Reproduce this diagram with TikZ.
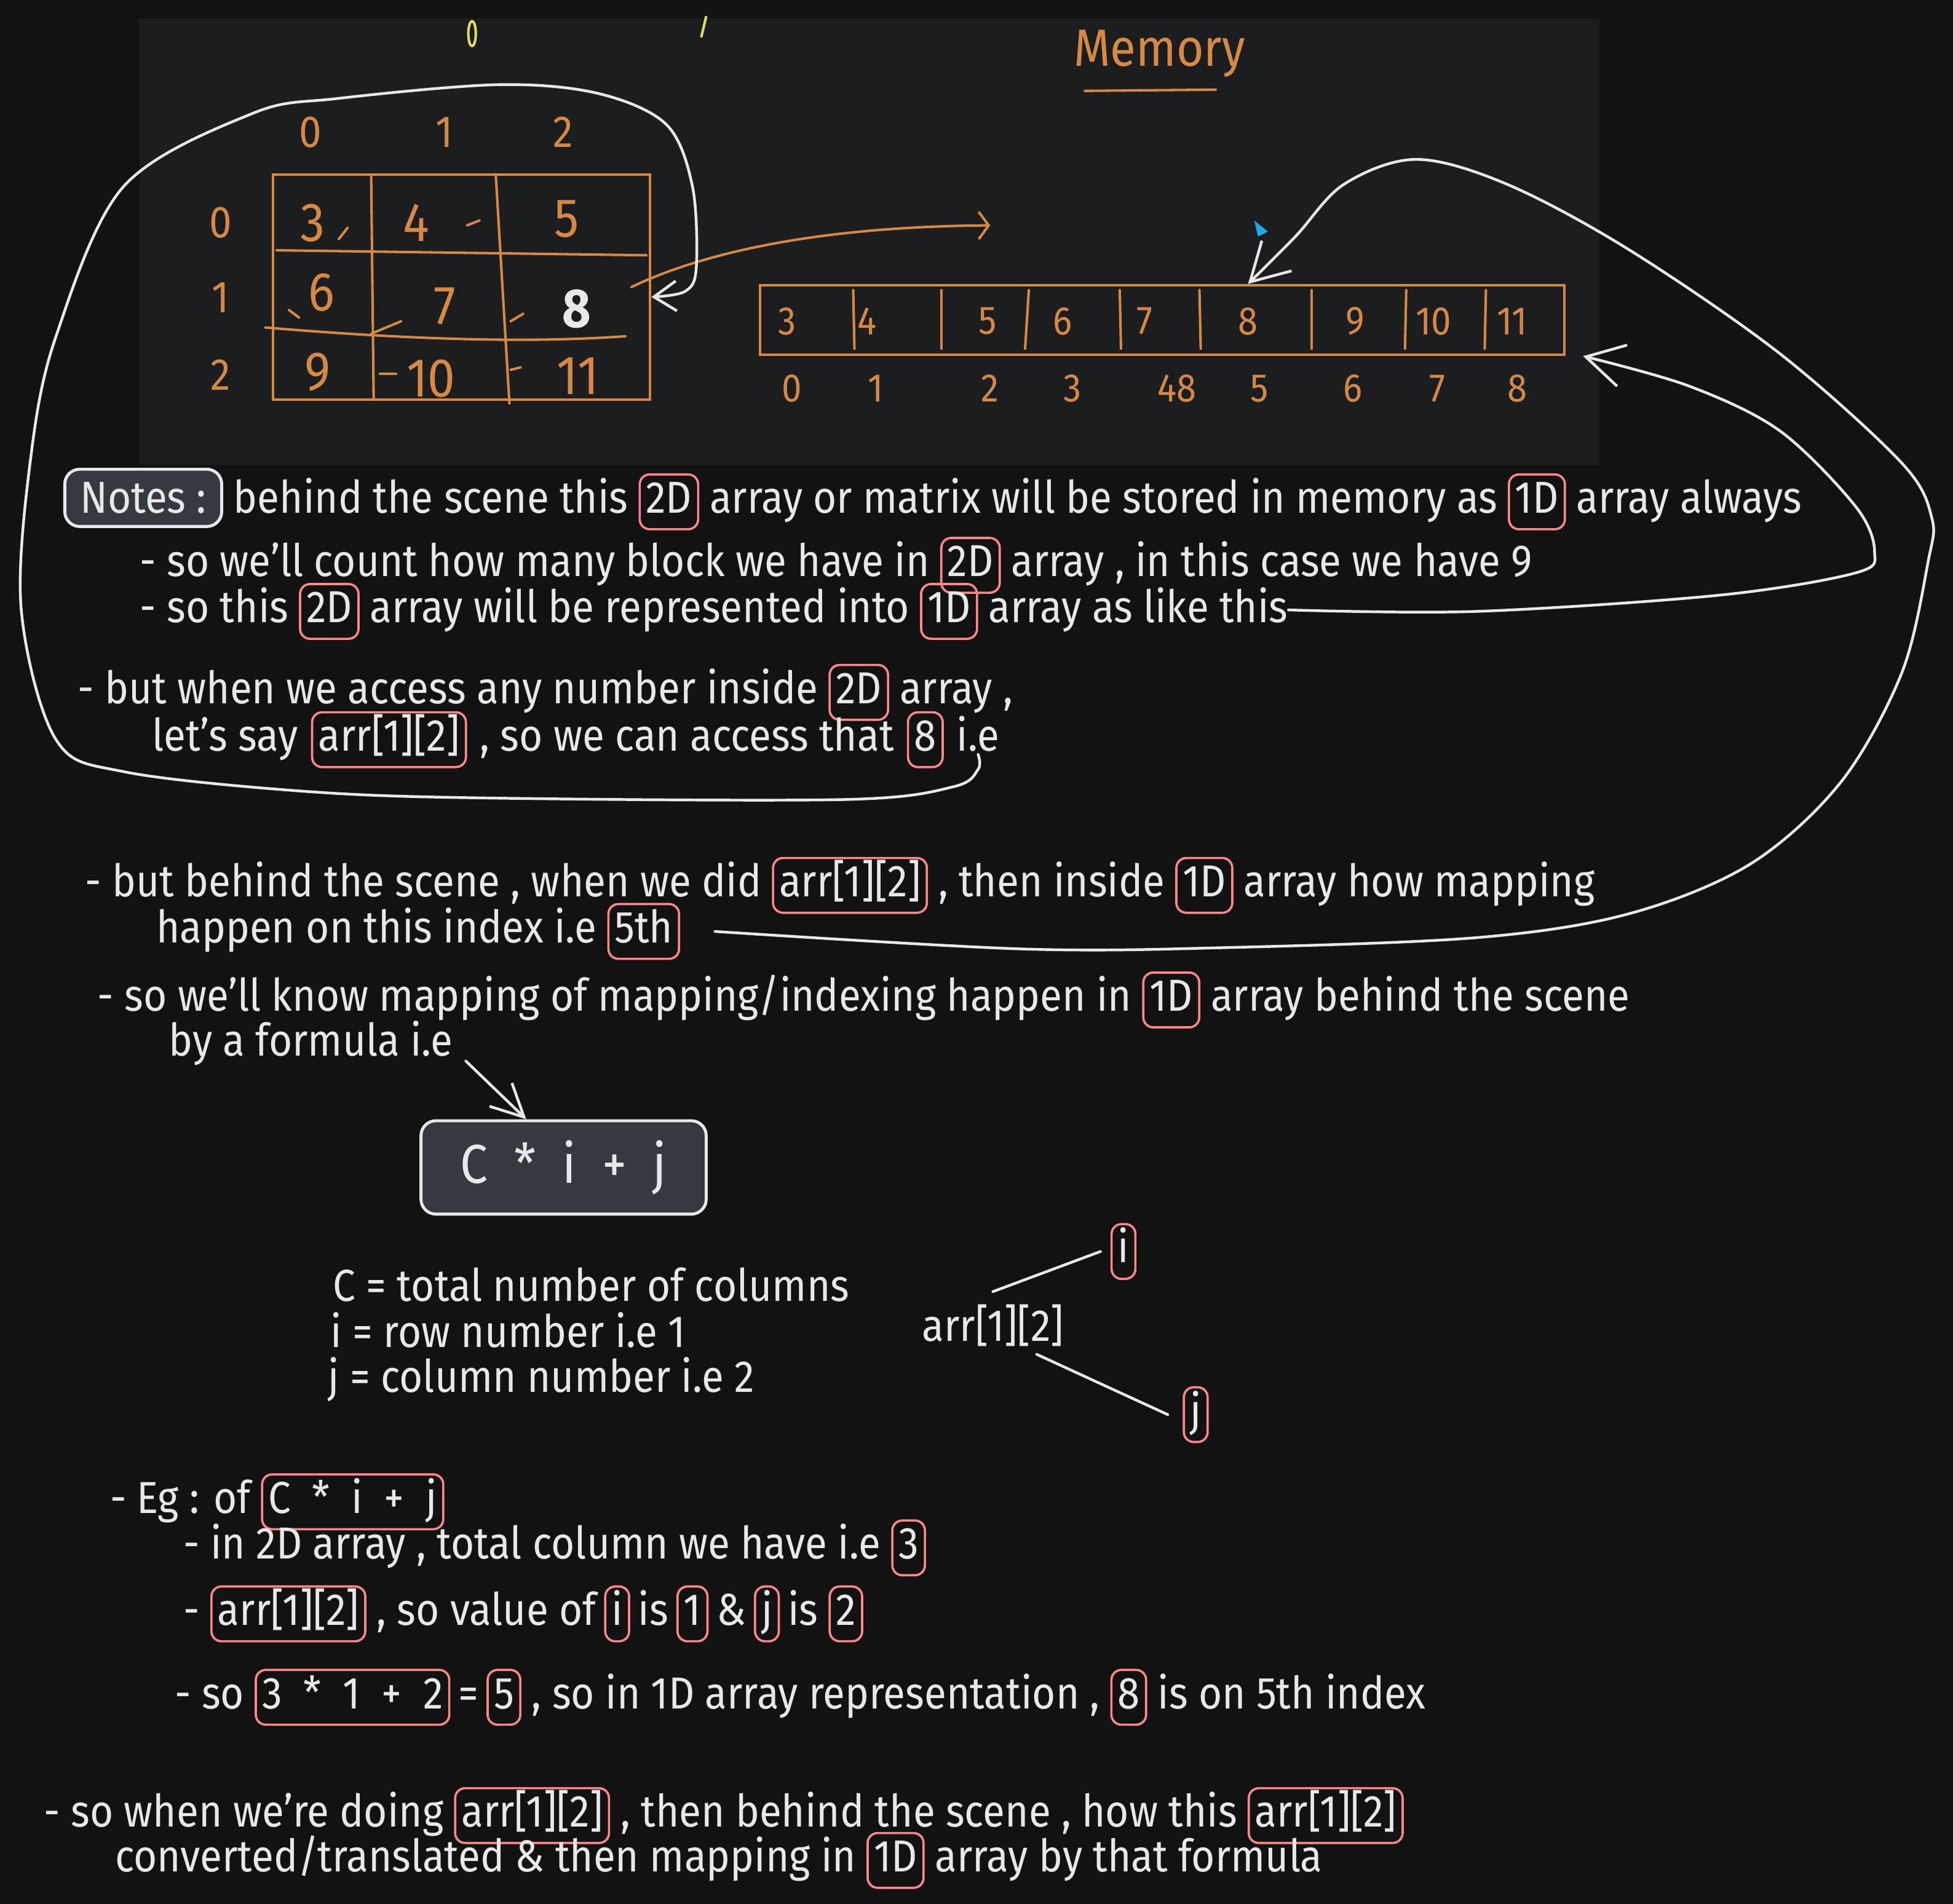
\documentclass[tikz,border=0pt]{standalone}
\usepackage{fontspec}
\setmainfont{Fira Sans}[FakeStretch=0.9]
\usetikzlibrary{positioning,arrows.meta}

\definecolor{bgdark}{RGB}{18,18,18}
\definecolor{board}{RGB}{27,29,31}
\definecolor{ink}{RGB}{232,232,232}
\definecolor{hlred}{RGB}{255,135,135}
\definecolor{slate}{RGB}{52,58,64}
\definecolor{penorange}{RGB}{214,137,68}
\definecolor{penyellow}{RGB}{226,222,96}
\definecolor{cursorblue}{RGB}{34,168,228}

\tikzset{
  txt/.style={font=\fontsize{18}{20}\selectfont, text=ink, inner sep=0pt},
  hl/.style={txt, draw=hlred, line width=0.9pt, rounded corners=4pt,
    inner xsep=2.5pt, inner ysep=2.5pt, text height=13pt, text depth=4pt},
  darkbox/.style={draw=ink, fill=slate, line width=1.2pt, rounded corners=6pt},
  penline/.style={draw=penorange, line width=1pt, line cap=round},
  pendigit/.style={text=penorange, inner sep=0pt, font=\fontsize{#1}{#1}\selectfont},
  pendigit/.default=16,
  curve/.style={draw=ink, line width=1.1pt, line cap=round},
  bigtip/.style={-{Straight Barb[length=15pt,width=17pt]}},
}

\begin{document}
\begin{tikzpicture}[x=0.5pt, y=-0.5pt]
  \useasboundingbox (0,0) rectangle (1568,1529);
  \fill[bgdark] (0,0) rectangle (1568,1529);
  \fill[board] (112,15) rectangle (1284,373);

  % stray marks at the top
  \draw[penyellow, line width=1pt] (379,27) ellipse [x radius=1.5pt, y radius=5pt];
  \draw[penyellow, line width=1pt] (563,30) -- (567,13);

  % memory title
  \node[pendigit=21] (memory) at (931,43) {Memory};
  \draw[penline] (871,73) -- (976,72);

  % the 2D matrix
  \node[draw=penorange, line width=1pt, minimum width=151.5pt, minimum height=90.5pt, inner sep=0pt] (mat) at (370.5,230.5) {};
  \draw[penline] (298,142) -- (300,321);
  \draw[penline] (398,140) -- (409,324);
  \draw[penline] (222,201) -- (519,205);
  \draw[penline] (213,263) .. controls (320,272) and (420,276) .. (502,270);
  \foreach \x/\t in {249/0,357/1,452/2}
    \node[pendigit=18] (col\t) at (\x,106) {\t};
  \foreach \y/\t in {179/0,239/1,301/2}
    \node[pendigit=18] (row\t) at (177,\y) {\t};
  \foreach \x/\y/\v/\n in {251/179/3/00,334/179/4/01,455/176/5/02,258/235/6/10,357/246/7/11,255/299/9/20,346/304/10/21,464/302/11/22}
    \node[pendigit=22] (m\n) at (\x,\y) {\v};
  \node[txt, font=\fontsize{22}{22}\selectfont\bfseries] (m12) at (463,248) {8};
  \draw[penline] (272,192) -- (279,183);
  \draw[penline] (375,181) -- (385,177);
  \draw[penline] (232,249) -- (240,255);
  \draw[penline] (298,268) -- (322,258);
  \draw[penline] (410,258) -- (420,252);
  \draw[penline] (305,300) -- (318,300);
  \draw[penline] (410,297) -- (418,295);

  % the 1D array in memory
  \node[draw=penorange, line width=1pt, minimum width=323pt, minimum height=28pt, inner sep=0pt] (arr1d) at (933,257) {};
  \foreach \x/\xe in {685/686,756/756,826/823,899/900,963/964,1053/1053,1129/1128,1193/1192}
    \draw[penline] (\x,233) -- (\xe,280);
  \foreach \x/\v [count=\i from 0] in {632/3,696/4,793/5,853/6,919/7,1002/8,1088/9,1151/10,1214/11}
    \node[pendigit=16] (a\i) at (\x,258) {\v};
  \foreach \x/\t [count=\i from 0] in {636/0,703/1,795/2,861/3,945/48,1011/5,1086/6,1154/7,1218/8}
    \node[pendigit=16] (idx\i) at (\x,312) {\t};
  \fill[cursorblue] (1007,177) -- (1018,186) -- (1010,190) -- cycle;

  % orange arrow out of the matrix
  \coordinate (otip) at (795,181);
  \draw[penline, -{Straight Barb[length=4pt,width=11pt]}] ([xshift=-8pt]mat.east) .. controls (560,205) and (650,182) .. (otip);

  % notes
  \node[txt, darkbox, minimum width=63pt, minimum height=23pt, anchor=base] (notes) at (115,412) {Notes :};
  \node[txt, base right=4pt of notes] (l1a) {behind the scene this};
  \node[hl, base right=4pt of l1a] (l1b) {2D};
  \node[txt, base right=4pt of l1b] (l1c) {array or matrix will be stored in memory as};
  \node[hl, base right=4pt of l1c] (l1d) {1D};
  \node[txt, base right=4pt of l1d] (l1e) {array always};

  \node[txt, anchor=base west] (l2a) at (112,463) {- so we'll count how many block we have in};
  \node[hl, base right=4pt of l2a] (l2b) {2D};
  \node[txt, base right=4pt of l2b] (l2c) {array , in this case we have 9};

  \node[txt, anchor=base west] (l3a) at (112,500) {- so this};
  \node[hl, base right=4pt of l3a] (l3b) {2D};
  \node[txt, base right=4pt of l3b] (l3c) {array will be represented into};
  \node[hl, base right=4pt of l3c] (l3d) {1D};
  \node[txt, base right=4pt of l3d] (l3e) {array as like this};

  \node[txt, anchor=base west] (l4a) at (62,565) {- but when we access any number inside};
  \node[hl, base right=4pt of l4a] (l4b) {2D};
  \node[txt, base right=4pt of l4b] (l4c) {array ,};

  \node[txt, anchor=base west] (l5a) at (122,603) {let's say};
  \node[hl, base right=5pt of l5a] (l5b) {arr[1][2]};
  \node[txt, base right=5pt of l5b] (l5c) {, so we can access that};
  \node[hl, base right=5pt of l5c] (l5d) {8};
  \node[txt, base right=5pt of l5d] (l5e) {i.e};

  \node[txt, anchor=base west] (l6a) at (68,720) {- but behind the scene , when we did};
  \node[hl, base right=4pt of l6a] (l6b) {arr[1][2]};
  \node[txt, base right=4pt of l6b] (l6c) {, then inside};
  \node[hl, base right=4pt of l6c] (l6d) {1D};
  \node[txt, base right=4pt of l6d] (l6e) {array how mapping};

  \node[txt, anchor=base west] (l7a) at (125,757) {happen on this index i.e};
  \node[hl, base right=4pt of l7a] (l7b) {5th};

  \node[txt, anchor=base west] (l8a) at (78,812) {- so we'll know mapping of mapping/indexing happen in};
  \node[hl, base right=4pt of l8a] (l8b) {1D};
  \node[txt, base right=4pt of l8b] (l8c) {array behind the scene};

  \node[txt, anchor=base west] (l9a) at (135,848) {by a formula i.e};

  % the formula
  \node[txt, darkbox, minimum width=114.5pt, minimum height=37.5pt, font=\fontsize{22}{24}\selectfont] (formula) at (452.5,937.5) {C\ \ *\ \ i\ \ +\ \ j};

  \node[txt, anchor=base west] (d1) at (267,1045) {C = total number of columns};
  \node[txt, anchor=base west] (d2) at (265,1082) {i = row number i.e 1};
  \node[txt, anchor=base west] (d3) at (263,1118) {j = column number i.e 2};

  \node[txt, anchor=base west] (arrnote) at (740,1077) {arr[1][2]};
  \node[hl] (ibox) at (902,1005) {i};
  \node[hl] (jbox) at (960,1136) {j};

  % example
  \node[txt, anchor=base west] (e1a) at (88,1215) {- Eg : of};
  \node[hl, base right=4pt of e1a] (e1b) {C\ \ *\ \ i\ \ +\ \ j};

  \node[txt, anchor=base west] (e2a) at (147,1252) {- in 2D array , total column we have i.e};
  \node[hl, base right=4pt of e2a] (e2b) {3};

  \node[txt, anchor=base west] (e3a) at (147,1305) {-};
  \node[hl, base right=4pt of e3a] (e3b) {arr[1][2]};
  \node[txt, base right=4pt of e3b] (e3c) {, so value of};
  \node[hl, base right=3pt of e3c] (e3d) {i};
  \node[txt, base right=3pt of e3d] (e3e) {is};
  \node[hl, base right=3pt of e3e] (e3f) {1};
  \node[txt, base right=3pt of e3f] (e3g) {\&};
  \node[hl, base right=3pt of e3g] (e3h) {j};
  \node[txt, base right=3pt of e3h] (e3i) {is};
  \node[hl, base right=4pt of e3i] (e3j) {2};

  \node[txt, anchor=base west] (e4a) at (140,1372) {- so};
  \node[hl, base right=4pt of e4a] (e4b) {3\ \ *\ \ 1\ \ +\ \ 2};
  \node[txt, base right=3pt of e4b] (e4c) {=};
  \node[hl, base right=3pt of e4c] (e4d) {5};
  \node[txt, base right=4pt of e4d] (e4e) {, so in 1D array representation ,};
  \node[hl, base right=4pt of e4e] (e4f) {8};
  \node[txt, base right=4pt of e4f] (e4g) {is on 5th index};

  \node[txt, anchor=base west] (e5a) at (35,1467) {- so when we're doing};
  \node[hl, base right=4pt of e5a] (e5b) {arr[1][2]};
  \node[txt, base right=4pt of e5b] (e5c) {, then behind the scene , how this};
  \node[hl, base right=4pt of e5c] (e5d) {arr[1][2]};

  \node[txt, anchor=base west] (e6a) at (92,1503) {converted/translated \& then mapping in};
  \node[hl, base right=4pt of e6a] (e6b) {1D};
  \node[txt, base right=4pt of e6b] (e6c) {array by that formula};

  % connectors
  \draw[curve, -{Straight Barb[length=9pt,width=12pt]}] plot[smooth, tension=0.55] coordinates {([yshift=-1pt]l5e.south) ([yshift=-7pt]l5e.south) ([xshift=-10pt,yshift=-14pt]l5e.south) (680,642) (403,641) (252,636) (101,620) (45,594) (17,489) (25,365) (45,270) (99,150) (203,91) (272,79) (400,68) (480,75) (535,100) (556,150) (559,215) (550,234) ([yshift=-4pt]mat.east)};
  \draw[curve, bigtip] plot[smooth, tension=0.55] coordinates {(l3e.east) (1185,491) (1380,478) (1490,460) (1505,443) (1490,407) (1429,346) (1356,310) ([xshift=7pt]arr1d.south east)};
  \draw[curve, bigtip] plot[smooth, tension=0.55] coordinates {([xshift=14pt]l7b.east) (819,762) (983,761) (1185,753) (1307,734) (1405,694) (1478,628) (1527,540) (1548,451) (1551,416) (1527,372) (1429,284) (1307,200) (1210,148) (1137,128) (1079,148) (1040,190) (arr1d.north -| a5)};
  \draw[curve, -{Straight Barb[length=13pt,width=13pt]}] ([xshift=5pt,yshift=2pt]l9a.south east) -- ([xshift=-15pt]formula.north);
  \draw[curve] ([yshift=5pt]arrnote.north) -- ([xshift=-4pt]ibox.west);
  \draw[curve] ([xshift=-11pt,yshift=-3pt]arrnote.south east) -- ([xshift=-6pt]jbox.west);
\end{tikzpicture}
\end{document}
